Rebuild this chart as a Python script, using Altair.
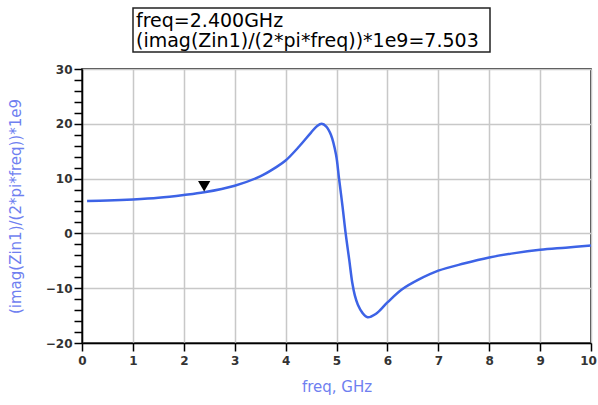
import altair as alt
import pandas as pd

# curve
freq_ghz = [0.1, 0.5, 1.0, 1.5, 2.0, 2.4, 3.0, 3.5, 3.8, 4.0, 4.27, 4.5, 4.62, 4.71, 4.8, 4.89,
            4.99, 5.05, 5.12, 5.18, 5.25, 5.31, 5.36, 5.42, 5.51, 5.61, 5.77, 6.0, 6.29, 6.62, 7.0,
            7.5, 8.0, 8.5, 9.0, 9.5, 10.0]
value = [5.9, 6.0, 6.2, 6.5, 7.0, 7.5, 8.7, 10.4, 12.0, 13.3, 15.9, 18.4, 19.6, 20.0, 19.5, 18.0,
         14.4, 10.0, 4.8, 0.0, -4.8, -9.0, -11.3, -13.0, -14.5, -15.3, -14.7, -12.6, -10.2, -8.4, -6.8,
         -5.5, -4.4, -3.6, -3.0, -2.6, -2.2]

marker_freq = [2.4]
marker_value = [7.503]

x_ticks = [i * 0.5 for i in range(21)]
y_ticks = list(range(-20, 31, 2))

line_df = pd.DataFrame({"freq": freq_ghz, "val": value})
marker_df = pd.DataFrame({"freq": marker_freq, "val": marker_value})

label_color = "#333333"
title_color = "#6f7ff0"
FONT = "DejaVu Sans"

x_enc = alt.X("freq:Q", scale=alt.Scale(domain=[0, 10], nice=False, zero=False),
              axis=alt.Axis(values=x_ticks, tickCount=200, format="d", title="freq, GHz",
                            labelExpr="(abs(datum.value - round(datum.value)) < 0.01) ? datum.label : ''",
                            gridOpacity={"expr": "(abs(datum.value - round(datum.value)) < 0.01) ? 1 : 0"},
                            labelOffset={"expr": "datum.value > 9.9 ? -3 : 0"},
                            labelOverlap=False, labelBound=False, labelFlush=False,
                            titleColor=title_color, titleFontSize=15, titleFontWeight="normal",
                            titleFont=FONT, titlePadding=13,
                            labelColor=label_color, labelFontSize=12, labelFont=FONT,
                            labelFontWeight="bold", labelPadding=4,
                            tickSize=8, tickColor="black", tickWidth=1.5,
                            domainColor="black", domainWidth=1.5,
                            gridColor="#c8c8c8", gridWidth=1.5))
y_enc = alt.Y("val:Q", scale=alt.Scale(domain=[-20, 30], nice=False, zero=False),
              axis=alt.Axis(values=y_ticks, tickCount=200, format="d", title="(imag(Zin1)/(2*pi*freq))*1e9",
                            labelExpr="(abs(datum.value) % 10 < 0.01) ? datum.label : ''",
                            gridOpacity={"expr": "(abs(datum.value) % 10 < 0.01) ? 1 : 0"},
                            labelOverlap=False, labelBound=False, labelFlush=False,
                            titleColor=title_color, titleFontSize=15, titleFontWeight="normal",
                            titleFont=FONT, titlePadding=22,
                            labelColor=label_color, labelFontSize=12, labelFont=FONT,
                            labelFontWeight="bold", labelPadding=2,
                            tickSize=8, tickColor="black", tickWidth=1.5,
                            domainColor="black", domainWidth=1.5,
                            gridColor="#c8c8c8", gridWidth=1.5))

line = alt.Chart(line_df).mark_line(color="#3d63e6", strokeWidth=2.5, interpolate="catmull-rom").encode(
    x=x_enc, y=y_enc)

marker = alt.Chart(marker_df).mark_point(shape="triangle-down", filled=True, color="black",
                                         size=150, opacity=1, yOffset=-6).encode(
    x="freq:Q", y="val:Q")

box = alt.Chart(marker_df).mark_rect(fill="white", stroke="#222222", strokeWidth=1.5, clip=False).encode(
    x=alt.value(51), x2=alt.value(408), y=alt.value(-61), y2=alt.value(-17))

label_text = alt.Chart(marker_df).transform_calculate(
    line1="'freq=' + format(datum.freq, '.3f') + 'GHz'",
    line2="'(imag(Zin1)/(2*pi*freq))*1e9=' + format(datum.val, '.3f')",
)
t1 = label_text.mark_text(align="left", baseline="alphabetic", fontSize=19, font=FONT,
                          color="black", clip=False).encode(
    x=alt.value(54), y=alt.value(-42), text="line1:N")
t2 = label_text.mark_text(align="left", baseline="alphabetic", fontSize=19, font=FONT,
                          color="black", clip=False).encode(
    x=alt.value(54), y=alt.value(-22), text="line2:N")

chart = alt.layer(line, marker, box, t1, t2).properties(
    width=509, height=274,
    padding={"left": 82, "top": 69, "right": 7, "bottom": 62},
    autosize=alt.AutoSizeParams(type="none"),
    background="white",
).configure_view(stroke="black", strokeWidth=1.5)

chart.save("out.html", embed_options={"renderer": "svg", "actions": False})
